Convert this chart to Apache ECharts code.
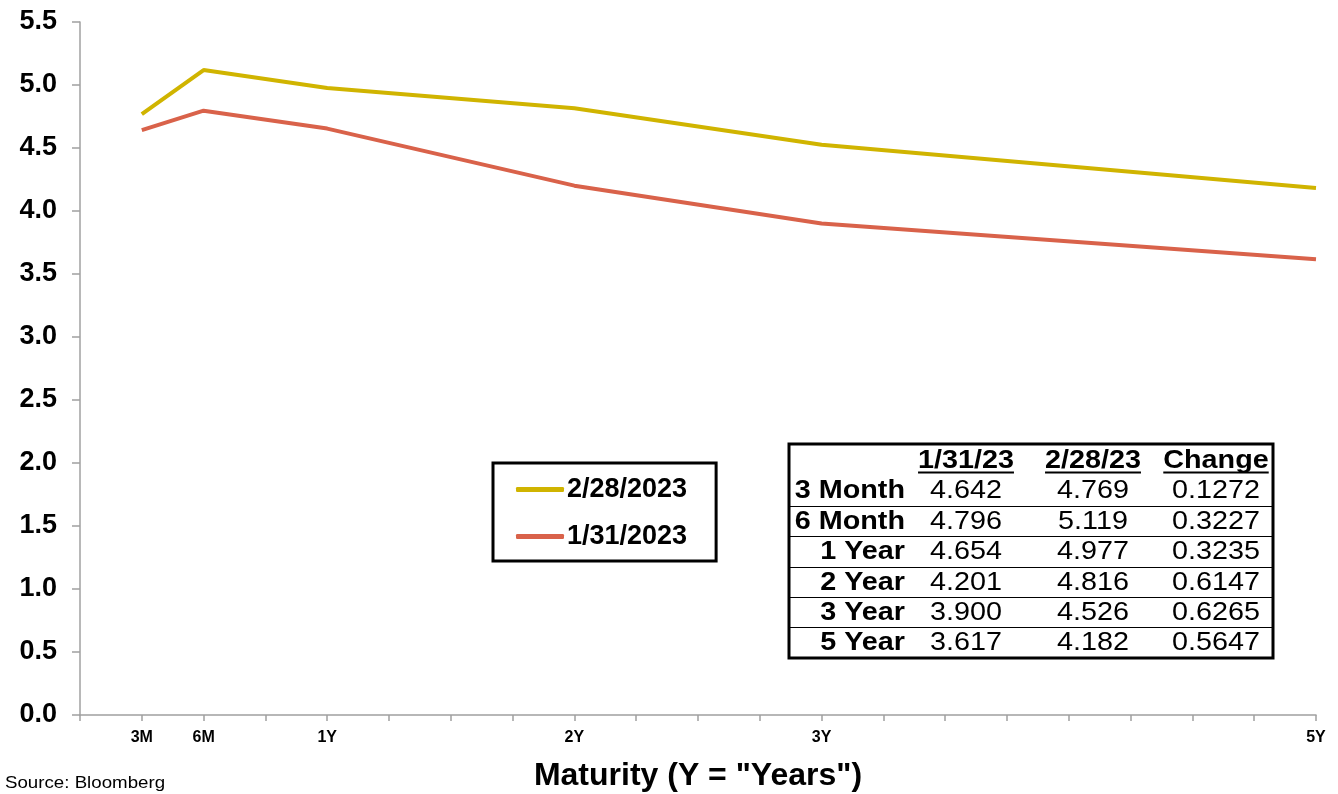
<!DOCTYPE html>
<html>
<head>
<meta charset="utf-8">
<script src="https://cdn.jsdelivr.net/npm/echarts@6/dist/echarts.min.js"></script>
<style>html,body{margin:0;padding:0;background:#fff;}#c{width:1338px;height:794px;}</style>
</head>
<body>
<div id="c"></div>
<script>
// ---- data ----
var maturities = [0.25, 0.5, 1, 2, 3, 5];            // years
var seriesNames = ['2/28/2023', '1/31/2023'];
var yieldsFeb = [4.769, 5.119, 4.977, 4.816, 4.526, 4.182];
var yieldsJan = [4.642, 4.796, 4.654, 4.201, 3.900, 3.617];
var changes = [0.1272, 0.3227, 0.3235, 0.6147, 0.6265, 0.5647];
var tableRowLabels = ['3 Month', '6 Month', '1 Year', '2 Year', '3 Year', '5 Year'];
var tableHeaders = ['1/31/23', '2/28/23', 'Change'];
var xTickValues = [0.25, 0.5, 1, 2, 3, 5];
var xTickLabels = ['3M', '6M', '1Y', '2Y', '3Y', '5Y'];
var xAxisName = 'Maturity (Y = "Years")';
var sourceText = 'Source: Bloomberg';

var FONT = '"Liberation Sans", Arial, Helvetica, sans-serif';
var colFeb = '#D0B400', colJan = '#D9624A';

function pairs(xs, ys) { return xs.map(function (x, i) { return [x, ys[i]]; }); }

// ---- table graphic ----
var measure = document.createElement('canvas').getContext('2d');
var SX = 1.15, TFS = 25;
var tbl = { x: 789, y: 444, w: 484, h: 214 };
var labelRight = 905;
var colCenters = [966, 1093, 1216];
var headerY = 461;
var rowY0 = 491.5, rowStep = 30.4;
var g = [];
g.push({ type: 'rect', shape: { x: tbl.x, y: tbl.y, width: tbl.w, height: tbl.h }, style: { fill: '#fff', stroke: '#000', lineWidth: 3 }, z: 10 });
tableHeaders.forEach(function (h, i) {
  g.push({ type: 'text', x: colCenters[i], y: headerY, scaleX: SX, z: 11,
    style: { text: h, font: 'bold ' + TFS + 'px ' + FONT, fill: '#000', align: 'center', verticalAlign: 'middle' } });
  measure.font = 'bold ' + TFS + 'px ' + FONT;
  var w = measure.measureText(h).width * SX;
  g.push({ type: 'line', z: 11, shape: { x1: colCenters[i] - w / 2, y1: headerY + 11.5, x2: colCenters[i] + w / 2, y2: headerY + 11.5 }, style: { stroke: '#000', lineWidth: 2 } });
});
tableRowLabels.forEach(function (lab, r) {
  var y = rowY0 + r * rowStep;
  g.push({ type: 'text', x: labelRight, y: y, scaleX: SX, z: 11,
    style: { text: lab, font: 'bold ' + TFS + 'px ' + FONT, fill: '#000', align: 'right', verticalAlign: 'middle' } });
  var vals = [yieldsJan[r].toFixed(3), yieldsFeb[r].toFixed(3), changes[r].toFixed(4)];
  vals.forEach(function (v, c) {
    g.push({ type: 'text', x: colCenters[c], y: y, scaleX: SX, z: 11,
      style: { text: v, font: TFS + 'px ' + FONT, fill: '#000', align: 'center', verticalAlign: 'middle' } });
  });
  if (r < tableRowLabels.length - 1) {
    var ly = Math.round(y + rowStep / 2) - 0.5;
    g.push({ type: 'line', z: 11, shape: { x1: tbl.x, y1: ly, x2: tbl.x + tbl.w, y2: ly }, style: { stroke: '#000', lineWidth: 1 } });
  }
});
g.push({ type: 'text', x: 5, y: 783, scaleX: 1.1, z: 11,
  style: { text: sourceText, font: '17px ' + FONT, fill: '#000', align: 'left', verticalAlign: 'middle' } });

var chart = echarts.init(document.getElementById('c'), null, { renderer: 'canvas' });
chart.setOption({
  animation: false,
  backgroundColor: '#fff',
  grid: { left: 80, right: 22, top: 22, bottom: 79, containLabel: false, outerBoundsMode: 'none' },
  xAxis: {
    type: 'value', min: 0, max: 5, interval: 0.25,
    name: xAxisName, nameLocation: 'middle', nameGap: 45,
    nameTextStyle: { fontSize: 32, fontWeight: 'bold', color: '#000', fontFamily: FONT },
    axisLine: { show: true, lineStyle: { color: '#A0A0A0', width: 1.5 } },
    axisTick: { show: true, length: 6, lineStyle: { color: '#A0A0A0', width: 1.5 } },
    splitLine: { show: false },
    axisLabel: {
      margin: 15, fontSize: 16, fontWeight: 'bold', color: '#000', fontFamily: FONT,
      showMinLabel: true, showMaxLabel: true,
      formatter: function (v) {
        for (var i = 0; i < xTickValues.length; i++) { if (Math.abs(xTickValues[i] - v) < 1e-6) return xTickLabels[i]; }
        return '';
      }
    }
  },
  yAxis: {
    type: 'value', min: 0, max: 5.5, interval: 0.5,
    axisLine: { show: true, lineStyle: { color: '#A0A0A0', width: 1.5 } },
    axisTick: { show: true, length: 8, lineStyle: { color: '#A0A0A0', width: 1.5 } },
    splitLine: { show: false },
    axisLabel: { margin: 23, fontSize: 27, fontWeight: 'bold', color: '#000', fontFamily: FONT,
      formatter: function (v) { return v.toFixed(1); } }
  },
  legend: {
    left: 493, top: 463, orient: 'vertical',
    padding: [13, 29, 11, 23], itemGap: 20, itemWidth: 48, itemHeight: 5,
    icon: 'roundRect',
    borderColor: '#000', borderWidth: 3, backgroundColor: '#fff',
    textStyle: { fontSize: 27, fontWeight: 'bold', color: '#000', fontFamily: FONT, padding: [0, 0, 0, -2] },
    data: seriesNames
  },
  series: [
    { name: seriesNames[0], type: 'line', data: pairs(maturities, yieldsFeb), symbol: 'none',
      lineStyle: { color: colFeb, width: 4 }, itemStyle: { color: colFeb } },
    { name: seriesNames[1], type: 'line', data: pairs(maturities, yieldsJan), symbol: 'none',
      lineStyle: { color: colJan, width: 4 }, itemStyle: { color: colJan } }
  ],
  graphic: g
});
</script>
</body>
</html>
